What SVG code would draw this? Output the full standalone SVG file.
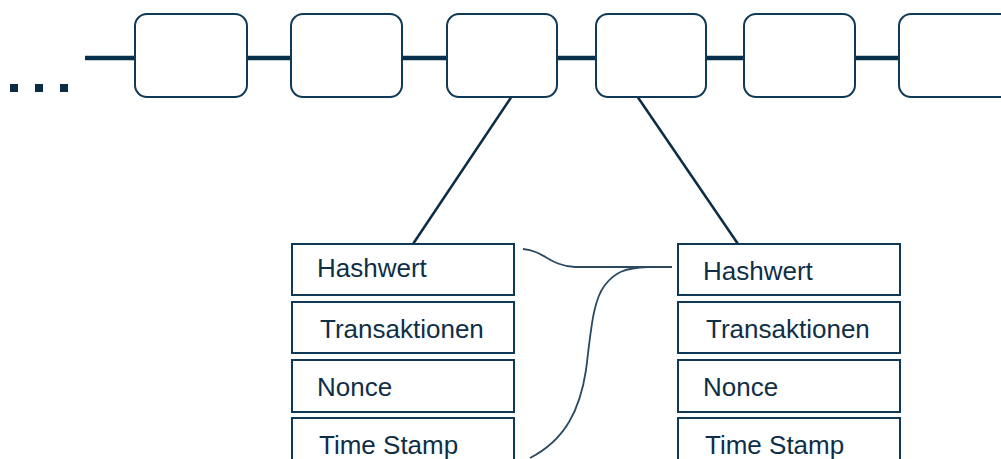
<svg xmlns="http://www.w3.org/2000/svg" width="1001" height="459" viewBox="0 0 1001 459">
<style>
.blk{fill:#fff;stroke:#0f3a57;stroke-width:2}
.fld{fill:#fff;stroke:#0f3a57;stroke-width:2}
.chain{stroke:#06304c;stroke-width:4.5;fill:none}
.link{stroke:#0a2c45;stroke-width:2.5;fill:none}
.crv{stroke:#2b4a62;stroke-width:1.8;fill:none}
text{font-family:"Liberation Sans",Arial,sans-serif;font-size:26px;fill:#0f2f47}
</style>
<rect width="1001" height="459" fill="#fff"/>
<g id="connectors">
<line class="chain" x1="85" y1="58" x2="999" y2="58"/>
<line class="link" x1="512" y1="96" x2="413" y2="244"/>
<line class="link" x1="637" y1="96" x2="738" y2="244"/>
<path class="crv" d="M523,249 C545,251 550,266 575,267 L672,267"/>
<path class="crv" d="M530,458 C565,440 580,410 586,370 C591,330 593,300 605,285 C615,272 625,268 648,267"/>
</g>
<g id="dots" fill="#0a2c45">
<rect x="10" y="84" width="8" height="8"/>
<rect x="35" y="84" width="8" height="8"/>
<rect x="60" y="84" width="8" height="8"/>
</g>
<g id="block1"><rect class="blk" x="135" y="14" width="112" height="83" rx="12"/></g>
<g id="block2"><rect class="blk" x="291" y="14" width="111" height="83" rx="12"/></g>
<g id="block3"><rect class="blk" x="447" y="14" width="110" height="83" rx="12"/></g>
<g id="block4"><rect class="blk" x="596" y="14" width="110" height="83" rx="12"/></g>
<g id="block5"><rect class="blk" x="744" y="14" width="111" height="83" rx="12"/></g>
<g id="block6"><rect class="blk" x="899" y="14" width="130" height="83" rx="12"/></g>
<g id="left-hashwert"><rect class="fld" x="292" y="244" width="222" height="51"/><text x="317" y="277">Hashwert</text></g>
<g id="left-transaktionen"><rect class="fld" x="292" y="302" width="222" height="51"/><text x="320" y="338">Transaktionen</text></g>
<g id="left-nonce"><rect class="fld" x="292" y="360" width="222" height="52"/><text x="317" y="396">Nonce</text></g>
<g id="left-timestamp"><rect class="fld" x="292" y="418" width="222" height="60"/><text x="319" y="454">Time Stamp</text></g>
<g id="right-hashwert"><rect class="fld" x="678" y="244" width="222" height="51"/><text x="703" y="280">Hashwert</text></g>
<g id="right-transaktionen"><rect class="fld" x="678" y="302" width="222" height="51"/><text x="706" y="338">Transaktionen</text></g>
<g id="right-nonce"><rect class="fld" x="678" y="360" width="222" height="52"/><text x="703" y="396">Nonce</text></g>
<g id="right-timestamp"><rect class="fld" x="678" y="418" width="222" height="60"/><text x="705" y="454">Time Stamp</text></g>
</svg>
